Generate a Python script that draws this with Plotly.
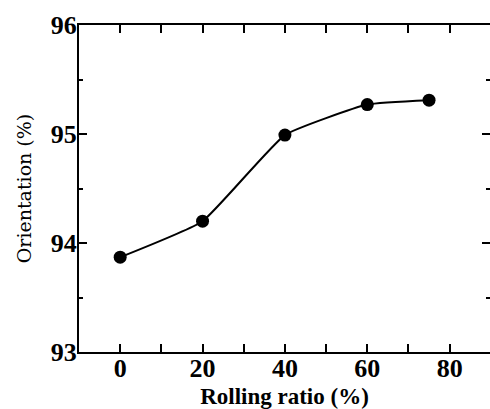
import plotly.graph_objects as go

rolling_ratio = [0, 20, 40, 60, 75]
orientation = [93.87, 94.20, 94.99, 95.27, 95.31]
x_ticks = [0, 20, 40, 60, 80]
y_ticks = [93, 94, 95, 96]

fig = go.Figure()
fig.add_trace(go.Scatter(
    x=rolling_ratio, y=orientation, mode="lines+markers",
    line=dict(color="black", width=2, shape="spline", smoothing=0.4),
    marker=dict(color="black", size=13),
    showlegend=False,
))
# invisible trace to carry right-side tick axis
fig.add_trace(go.Scatter(
    x=rolling_ratio, y=orientation, yaxis="y2", mode="markers",
    marker=dict(opacity=0), showlegend=False, hoverinfo="skip",
))

tickfont = dict(family="Liberation Serif", size=26, color="black")
fig.update_layout(
    width=490, height=409,
    margin=dict(l=79, r=0, t=25, b=57),
    paper_bgcolor="white", plot_bgcolor="white",
    xaxis=dict(
        range=[-10, 89.8], tickvals=x_ticks, ticktext=[f"<b>{v}</b>" for v in x_ticks],
        ticks="inside", ticklen=8, tickwidth=1.5, tickcolor="black",
        minor=dict(ticks="inside", ticklen=4, tickwidth=1.5, tickcolor="black", dtick=10, tick0=0),
        showline=True, linecolor="black", linewidth=2, mirror="allticks",
        showgrid=False, zeroline=False, tickfont=tickfont, ticklabelstandoff=-8,
        title=dict(text="<b>Rolling ratio (%)</b>", font=dict(family="Liberation Serif", size=23, color="black"), standoff=6),
    ),
    yaxis=dict(
        range=[93, 96], tickvals=y_ticks, ticktext=[f"<b>{v}</b>" for v in y_ticks],
        ticks="inside", ticklen=8, tickwidth=1.5, tickcolor="black",
        minor=dict(ticks="inside", ticklen=4, tickwidth=1.5, tickcolor="black", dtick=0.5, tick0=93),
        showline=True, linecolor="black", linewidth=2,
        showgrid=False, zeroline=False, tickfont=tickfont, ticklabelstandoff=-5,
        title=dict(text="Orientation (%)", font=dict(family="DejaVu Serif", size=19, color="black"), standoff=14),
    ),
    yaxis2=dict(
        range=[93, 96], overlaying="y", side="right", anchor="x",
        tickvals=y_ticks, showticklabels=False,
        ticks="inside", ticklen=8, tickwidth=1.5, tickcolor="black",
        minor=dict(ticks="inside", ticklen=4, tickwidth=1.5, tickcolor="black", dtick=0.5, tick0=93),
        showline=False, showgrid=False, zeroline=False,
    ),
)

fig.write_html("out.html")
